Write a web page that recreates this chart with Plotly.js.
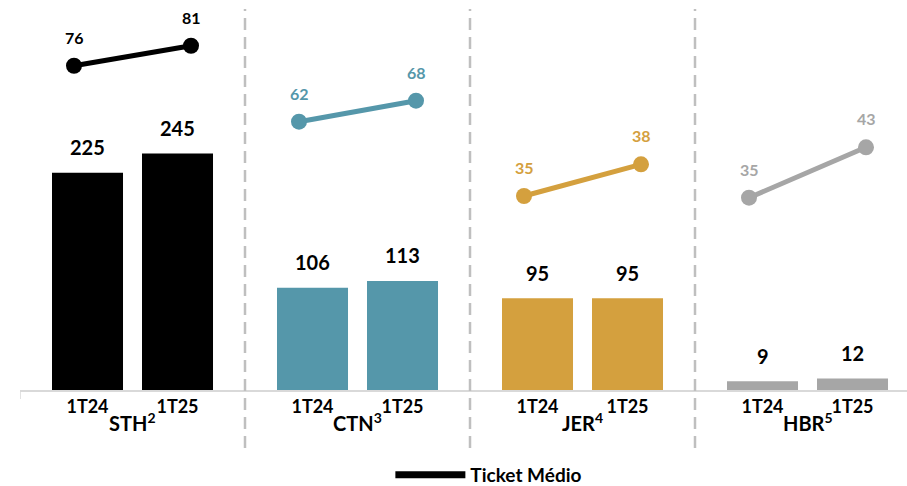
<!DOCTYPE html>
<html>
<head>
<meta charset="utf-8">
<script src="https://cdn.plot.ly/plotly-3.0.1.min.js"></script>
<style>
  html, body { margin: 0; padding: 0; background: #fff; }
  #chart { width: 907px; height: 486px; }
</style>
</head>
<body>
<div id="chart"></div>
<script>
// ---- Data ----
const groupLabels = ['STH<sup>2</sup>', 'CTN<sup>3</sup>', 'JER<sup>4</sup>', 'HBR<sup>5</sup>'];
const periods = ['1T24', '1T25'];
const sthBars = [225, 245];
const ctnBars = [106, 113];
const jerBars = [95, 95];
const hbrBars = [9, 12];
const sthTicket = [76, 81];
const ctnTicket = [62, 68];
const jerTicket = [35, 38];
const hbrTicket = [35, 43];
const legendName = 'Ticket Médio';

// ---- Styles ----
const FONT = 'Lato, "Open Sans", "DejaVu Sans", sans-serif';
const colors = ['#000000', '#5597AA', '#D4A03E', '#A6A6A6'];
const barSets = [sthBars, ctnBars, jerBars, hbrBars];
const ticketSets = [sthTicket, ctnTicket, jerTicket, hbrTicket];
const barOffset = 0.2, barWidth = 0.3156, lineOffset = 0.26;
// independent (hidden) scales for each group's ticket line
const lineRanges = [[-5.07, 92.43], [-14.66, 96.77], [16.64, 53.55], [4.48, 66.38]];

const traces = [];
const annotations = [];
const tickvals = [], ticktext = [];

barSets.forEach((vals, g) => {
  const xs = periods.map((p, j) => g + (j === 0 ? -barOffset : barOffset));
  periods.forEach((p, j) => { tickvals.push(xs[j]); ticktext.push(p); });
  traces.push({
    type: 'bar', x: xs, y: vals, width: barWidth,
    marker: { color: colors[g] }, showlegend: false, hoverinfo: 'skip'
  });
  vals.forEach((v, j) => annotations.push({
    x: xs[j], y: v, xref: 'x', yref: 'y', text: String(v), showarrow: false,
    yanchor: 'middle', yshift: 25.5,
    font: { family: FONT, size: 20, color: '#000', weight: 700 }
  }));
});

ticketSets.forEach((vals, g) => {
  const xs = periods.map((p, j) => g + (j === 0 ? -lineOffset : lineOffset));
  const ya = 'y' + (g + 2);
  traces.push({
    type: 'scatter', mode: 'lines+markers', x: xs, y: vals, yaxis: ya,
    line: { color: colors[g], width: 5 },
    marker: { color: colors[g], size: 16 },
    showlegend: false, hoverinfo: 'skip', cliponaxis: false
  });
  vals.forEach((v, j) => annotations.push({
    x: xs[j], y: v, xref: 'x', yref: ya, text: String(v), showarrow: false,
    yanchor: 'middle', yshift: 28.5,
    font: { family: FONT, size: 16, color: colors[g], weight: 700 }
  }));
});

// legend entry
traces.push({
  type: 'scatter', mode: 'lines', x: [null], y: [null], name: legendName,
  line: { color: '#000', width: 7 }, showlegend: true, hoverinfo: 'skip'
});

groupLabels.forEach((lab, g) => annotations.push({
  x: g, y: 0, xref: 'x', yref: 'paper', text: lab, showarrow: false,
  yanchor: 'middle', yshift: -32,
  font: { family: FONT, size: 20, color: '#000', weight: 700 }
}));

const shapes = [];
[0.5, 1.5, 2.5].forEach(xv => shapes.push({
  type: 'line', xref: 'x', yref: 'paper', x0: xv, x1: xv,
  y0: -58 / 390, y1: (390 - 9) / 390,
  line: { color: '#BFBFBF', width: 2.5, dash: '12px,7px' }
}));
shapes.push({
  type: 'line', xref: 'x', yref: 'paper', x0: -0.5, x1: -0.5,
  y0: 0, y1: -9 / 390, line: { color: '#D9D9D9', width: 1.5 }
});

const layout = {
  width: 907, height: 486,
  margin: { l: 20, r: 0, t: 0, b: 96, autoexpand: false },
  paper_bgcolor: '#fff', plot_bgcolor: '#fff',
  font: { family: FONT, color: '#000' },
  barmode: 'overlay',
  xaxis: {
    type: 'linear', range: [-0.5, -0.5 + 887 / 225],
    tickvals: tickvals, ticktext: ticktext, ticks: '',
    showline: true, linecolor: '#D9D9D9', linewidth: 1.5,
    showgrid: false, zeroline: false, fixedrange: true, automargin: false,
    tickfont: { family: FONT, size: 18, color: '#000', weight: 700 }
  },
  yaxis: { range: [0, 404], visible: false, fixedrange: true },
  legend: {
    orientation: 'h', xref: 'container', yref: 'container',
    x: 0.539, xanchor: 'center', y: 1 - 475 / 486, yanchor: 'middle',
    itemwidth: 70,
    font: { family: FONT, size: 19, color: '#000', weight: 700 }
  },
  annotations: annotations,
  shapes: shapes,
  showlegend: true
};
lineRanges.forEach((r, g) => {
  layout['yaxis' + (g + 2)] = { overlaying: 'y', range: r, visible: false, fixedrange: true };
});

Plotly.newPlot('chart', traces, layout, { displayModeBar: false, staticPlot: true });
</script>
</body>
</html>
